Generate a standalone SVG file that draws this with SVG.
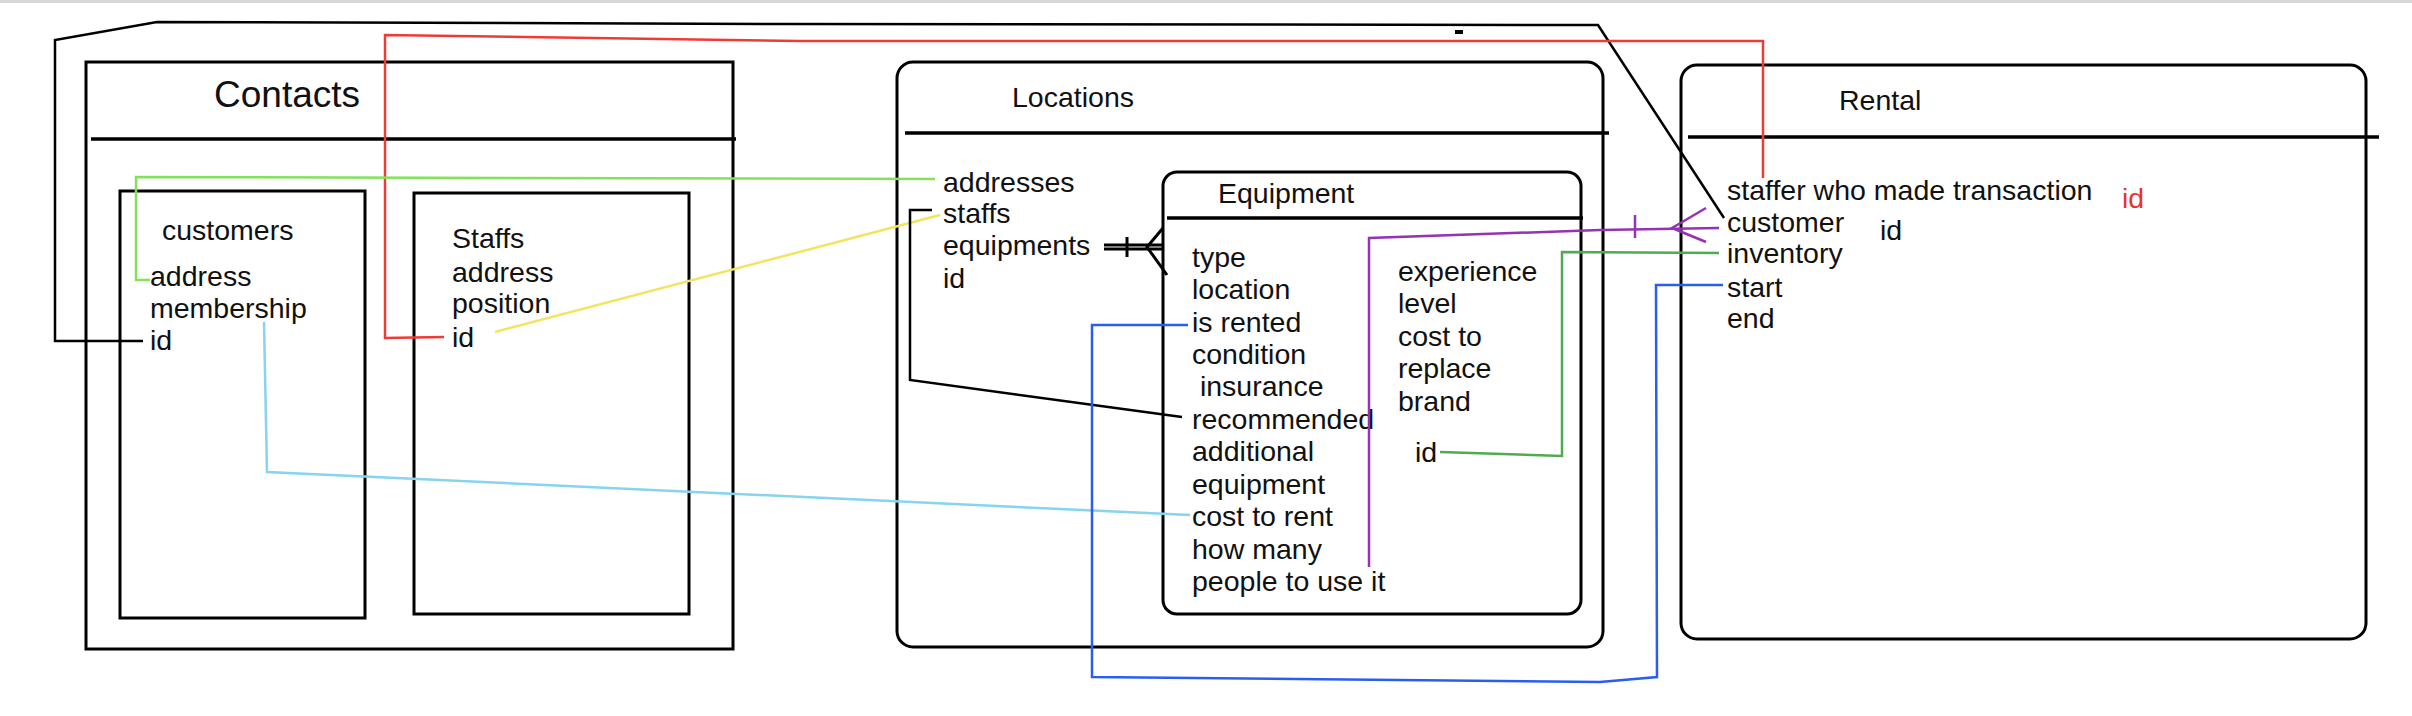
<svg xmlns="http://www.w3.org/2000/svg" width="2412" height="716" viewBox="0 0 2412 716">
<style>
.box{fill:none;stroke:#000;stroke-width:3}
.div{stroke:#000;stroke-width:3.5}
text{font-family:"Liberation Sans",Arial,sans-serif;font-size:28.5px;fill:#111}
.c{fill:none;stroke-width:2.5;stroke-linejoin:miter}
</style>
<rect x="0" y="0" width="2412" height="716" fill="#fff"/>
<rect x="0" y="0" width="2412" height="3" fill="#d8d8d8"/>
<g id="contacts">
<rect class="box" x="86" y="62" width="647" height="587"/>
<line class="div" x1="91" y1="139" x2="736" y2="139"/>
<text x="214" y="107" style="font-size:37px">Contacts</text>
</g>
<g id="customers">
<rect class="box" x="120" y="191" width="245" height="427"/>
<text x="162" y="240">customers</text>
<text x="150" y="286">address</text>
<text x="150" y="318">membership</text>
<text x="150" y="350">id</text>
</g>
<g id="staffs">
<rect class="box" x="414" y="193" width="275" height="421"/>
<text x="452" y="248">Staffs</text>
<text x="452" y="282">address</text>
<text x="452" y="313">position</text>
<text x="452" y="347">id</text>
</g>
<g id="locations">
<rect class="box" x="897" y="62" width="706" height="585" rx="16"/>
<line class="div" x1="905" y1="133" x2="1609" y2="133"/>
<text x="1012" y="107">Locations</text>
<text x="943" y="192">addresses</text>
<text x="943" y="223">staffs</text>
<text x="943" y="255">equipments</text>
<text x="943" y="288">id</text>
</g>
<g id="equipment">
<rect class="box" x="1163" y="172" width="418" height="442" rx="14"/>
<line class="div" x1="1167" y1="218" x2="1583" y2="218"/>
<text x="1218" y="203">Equipment</text>
<text x="1192" y="267">type</text>
<text x="1192" y="299">location</text>
<text x="1192" y="332">is rented</text>
<text x="1192" y="364">condition</text>
<text x="1192" y="396" xml:space="preserve"> insurance</text>
<text x="1192" y="429">recommended</text>
<text x="1192" y="461">additional</text>
<text x="1192" y="494">equipment</text>
<text x="1192" y="526">cost to rent</text>
<text x="1192" y="559">how many</text>
<text x="1192" y="591">people to use it</text>
<text x="1398" y="281">experience</text>
<text x="1398" y="313">level</text>
<text x="1398" y="346">cost to</text>
<text x="1398" y="378">replace</text>
<text x="1398" y="411">brand</text>
<text x="1415" y="462">id</text>
</g>
<g id="rental">
<rect class="box" x="1681" y="65" width="685" height="574" rx="16"/>
<line class="div" x1="1688" y1="137" x2="2379" y2="137"/>
<text x="1839" y="110">Rental</text>
<text x="1727" y="200">staffer who made transaction</text>
<text x="2122" y="208" style="fill:#e8352c">id</text>
<text x="1727" y="232">customer</text>
<text x="1880" y="240">id</text>
<text x="1727" y="263">inventory</text>
<text x="1727" y="297">start</text>
<text x="1727" y="328">end</text>
</g>
<g id="connectors">
<polyline class="c" stroke="#000" stroke-width="3" points="143,341 55,341 55,40 157,22 786,24 1598,25 1724,218"/>
<rect x="1455" y="30" width="8" height="4" fill="#000"/>
<polyline class="c" stroke="#ee3b36" points="444,337 385,338 385,35 800,41 1763,41 1763,178"/>
<polyline class="c" stroke="#84e25a" points="150,280 136,280 136,177 935,179"/>
<polyline class="c" stroke="#f2e45c" points="495,332 940,215"/>
<polyline class="c" stroke="#86d4ee" points="264,322 267,472 1190,515"/>
<polyline class="c" stroke="#000" stroke-width="3" points="932,210 910,210 910,380 1182,417"/>
<g stroke="#000" stroke-width="3" fill="none">
<line x1="1104" y1="245" x2="1162" y2="245"/>
<line x1="1104" y1="249" x2="1162" y2="249"/>
<line x1="1127" y1="237" x2="1127" y2="257"/>
<polyline points="1163,228 1147,247 1167,275"/>
</g>
<polyline class="c" stroke="#9433b4" points="1369,567 1369,238 1600,230 1719,228"/>
<g stroke="#9433b4" stroke-width="2.5" fill="none">
<line x1="1635" y1="215" x2="1635" y2="238"/>
<polyline points="1706,208 1672,228 1706,242"/>
</g>
<polyline class="c" stroke="#4faa52" points="1440,452 1562,456 1562,252 1719,253"/>
<polyline class="c" stroke="#2a5ef0" points="1188,325 1092,325 1092,677 1600,682 1657,677 1656,285 1723,285"/>
</g>
</svg>
